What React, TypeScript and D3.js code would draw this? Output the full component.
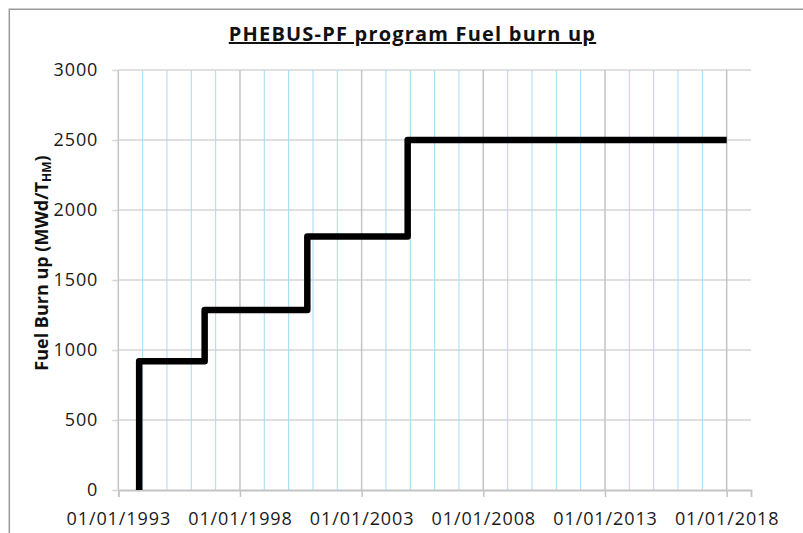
import React, { useEffect, useRef } from 'react';
import * as d3 from 'd3';

// step series
const stepDates = ['1993-11-10', '1993-11-10', '1996-07-20', '2000-10-08', '2004-11-22', '2018-01-01'];
const burnUp = [0, 920, 1285, 1810, 2500, 2500];
const majorYears = [1993, 1998, 2003, 2008, 2013, 2018];
const yTicks = [0, 500, 1000, 1500, 2000, 2500, 3000];
const xDomain = ['1993-01-01', '2019-01-01'];
const title = 'PHEBUS-PF program Fuel burn up';

const W = 803;
const H = 533;
const FONT = '"Open Sans", "Noto Sans", sans-serif';

const App = () => {
  const svgRef = useRef<SVGSVGElement>(null);

  useEffect(() => {
    const svg = d3.select(svgRef.current);
    svg.selectAll('*').remove();

    const parse = d3.utcParse('%Y-%m-%d');
    const data = stepDates.map((d, i) => ({ date: parse(d) as Date, value: burnUp[i] }));

    const left = 118.3;
    const right = 751;
    const top = 70;
    const bottom = 490;

    const x = d3
      .scaleUtc()
      .domain(xDomain.map((d) => parse(d) as Date))
      .range([left, right]);

    const y = d3.scaleLinear().domain([0, 3000]).range([bottom, top]);

    // chart frame (only top and left edges are visible)
    svg
      .append('path')
      .attr('d', `M9.3,${H} V9.3 H${W}`)
      .attr('fill', 'none')
      .attr('stroke', '#9a9a9a')
      .attr('stroke-width', 1.5);

    // horizontal grid
    svg
      .append('g')
      .selectAll('line')
      .data(yTicks.slice(1))
      .join('line')
      .attr('x1', left)
      .attr('x2', right)
      .attr('y1', (d) => y(d))
      .attr('y2', (d) => y(d))
      .attr('stroke', '#d6d6d6')
      .attr('stroke-width', 1.5);

    // minor yearly grid
    const majorDates = majorYears.map((yr) => new Date(Date.UTC(yr, 0, 1)));
    const minorDates = d3.utcYear
      .range(new Date(Date.UTC(1994, 0, 1)), new Date(Date.UTC(2018, 0, 1)))
      .filter((d) => !majorYears.includes(d.getUTCFullYear()));

    svg
      .append('g')
      .selectAll('line')
      .data(minorDates)
      .join('line')
      .attr('x1', (d) => x(d))
      .attr('x2', (d) => x(d))
      .attr('y1', top)
      .attr('y2', bottom)
      .attr('stroke', '#a3dbf4')
      .attr('stroke-width', 1);

    // major grid
    svg
      .append('g')
      .selectAll('line')
      .data(majorDates)
      .join('line')
      .attr('x1', (d) => x(d))
      .attr('x2', (d) => x(d))
      .attr('y1', top)
      .attr('y2', bottom)
      .attr('stroke', '#c4c4c4')
      .attr('stroke-width', 1.5);

    // x axis
    const xAxis = svg
      .append('g')
      .attr('transform', `translate(0,${bottom})`)
      .call(
        d3
          .axisBottom(x)
          .tickValues(majorDates)
          .tickSize(7)
          .tickPadding(15)
          .tickFormat((d) => d3.utcFormat('%d/%m/%Y')(d as Date))
      );
    xAxis.select('.domain').attr('stroke', '#c4c4c4').attr('stroke-width', 1.8);
    xAxis.selectAll('.tick line').attr('stroke', '#c4c4c4').attr('stroke-width', 1.5);
    xAxis
      .selectAll('.tick text')
      .attr('fill', '#1a1a1a')
      .style('font-family', FONT)
      .style('font-size', '18px')
      .style('letter-spacing', '0.9px');

    // y axis
    const yAxis = svg
      .append('g')
      .attr('transform', `translate(${left},0)`)
      .call(d3.axisLeft(y).tickValues(yTicks).tickSize(6).tickPadding(14).tickFormat(d3.format('d')));
    yAxis.select('.domain').remove();
    yAxis.selectAll('.tick line').attr('stroke', '#d6d6d6').attr('stroke-width', 1.5);
    yAxis
      .selectAll('.tick text')
      .attr('fill', '#1a1a1a')
      .style('font-family', FONT)
      .style('font-size', '18px')
      .style('letter-spacing', '0.9px');

    // step line
    const line = d3
      .line<{ date: Date; value: number }>()
      .x((d) => x(d.date))
      .y((d) => y(d.value))
      .curve(d3.curveStepAfter);

    svg
      .append('path')
      .datum(data)
      .attr('fill', 'none')
      .attr('stroke', '#000')
      .attr('stroke-width', 6.5)
      .attr('stroke-linejoin', 'round')
      .attr('d', line);

    // title
    svg
      .append('text')
      .attr('x', 412.5)
      .attr('y', 41)
      .attr('text-anchor', 'middle')
      .style('font-family', FONT)
      .style('font-size', '20px')
      .style('font-weight', 700)
      .style('letter-spacing', '1.2px')
      .style('text-decoration', 'underline')
      .attr('fill', '#111')
      .text(title);

    // y label
    const yl = svg
      .append('text')
      .attr('transform', `translate(48,263) rotate(-90)`)
      .attr('text-anchor', 'middle')
      .style('font-family', FONT)
      .style('font-size', '18px')
      .style('font-weight', 700)
      .attr('fill', '#111');
    yl.append('tspan').text('Fuel Burn up (MWd/T');
    yl.append('tspan').attr('font-size', '12px').attr('dy', 3).text('HM');
    yl.append('tspan').attr('dy', -3).text(')');
  }, []);

  return (
    <svg
      ref={svgRef}
      width={W}
      height={H}
      style={{ position: 'absolute', left: 0, top: 0, background: '#fff' }}
    ></svg>
  );
};

export default App;
